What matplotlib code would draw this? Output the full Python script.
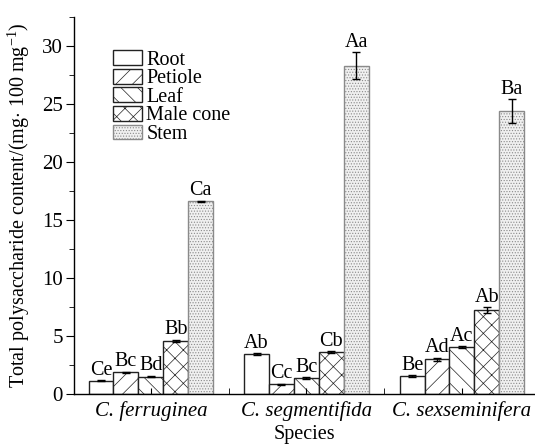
import matplotlib
matplotlib.use('Agg')
import matplotlib.pyplot as plt
import numpy as np
from matplotlib.ticker import MultipleLocator, FixedLocator

plt.rcParams['font.family'] = ['Liberation Serif', 'DejaVu Serif']
plt.rcParams['mathtext.fontset'] = 'custom'
plt.rcParams['mathtext.rm'] = 'Liberation Serif'
plt.rcParams['mathtext.it'] = 'Liberation Serif:italic'
plt.rcParams['hatch.linewidth'] = 0.5

species = ['C. ferruginea', 'C. segmentifida', 'C. sexseminifera']
organs = ['Root', 'Petiole', 'Leaf', 'Male cone', 'Stem']

# values per organ, one entry per species
root = [1.15, 3.42, 1.55]
petiole = [1.87, 0.84, 2.99]
leaf = [1.50, 1.35, 4.05]
male_cone = [4.57, 3.62, 7.24]
stem = [16.6, 28.3, 24.4]

root_err = [0.05, 0.08, 0.08]
petiole_err = [0.05, 0.05, 0.12]
leaf_err = [0.05, 0.08, 0.08]
male_cone_err = [0.08, 0.08, 0.25]
stem_err = [0.08, 1.15, 1.0]

root_lbl = ['Ce', 'Ab', 'Be']
petiole_lbl = ['Bc', 'Cc', 'Ad']
leaf_lbl = ['Bd', 'Bc', 'Ac']
male_cone_lbl = ['Bb', 'Cb', 'Ab']
stem_lbl = ['Ca', 'Aa', 'Ba']

values = [root, petiole, leaf, male_cone, stem]
errors = [root_err, petiole_err, leaf_err, male_cone_err, stem_err]
letters = [root_lbl, petiole_lbl, leaf_lbl, male_cone_lbl, stem_lbl]

hatches = ['', '//', '\\\\', 'xx', '......']
faces = ['white', 'white', 'white', 'white', '#f0f0f0']
edges = ['#222222', '#222222', '#222222', '#222222', '#8a8a8a']

fig = plt.figure(figsize=(5.35, 4.44), dpi=100)
ax = fig.add_axes([0.138, 0.1126, 0.862, 0.8491])

x = np.arange(len(species))
w = 0.16

for i, organ in enumerate(organs):
    pos = x + (i - 2) * w
    ax.bar(pos, values[i], w, facecolor=faces[i], edgecolor=edges[i],
           hatch=hatches[i], linewidth=1.0, label=organ)
    ax.errorbar(pos, values[i], yerr=errors[i], fmt='none',
                ecolor='black', elinewidth=1.0, capsize=3, capthick=1.0)
    for p, v, e, t in zip(pos, values[i], errors[i], letters[i]):
        ax.text(p, v + e + 0.05, t, ha='center', va='bottom', fontsize=14.5)

ax.set_xlim(-0.495, 2.47)
ax.set_ylim(0, 32.5)

ax.spines['top'].set_visible(False)
ax.spines['right'].set_visible(False)
ax.spines['left'].set_linewidth(1.0)
ax.spines['bottom'].set_linewidth(1.0)

ax.yaxis.set_major_locator(MultipleLocator(5))
ax.yaxis.set_minor_locator(MultipleLocator(2.5))
ax.tick_params(axis='y', which='major', direction='out', length=6, labelsize=15, pad=2)
ax.tick_params(axis='y', which='minor', direction='out', length=3.5)

ax.set_xticks(x)
ax.set_xticklabels(species, fontstyle='italic', fontsize=15)
ax.xaxis.set_minor_locator(FixedLocator([0.5, 1.5]))
ax.tick_params(axis='x', which='major', direction='in', length=4, pad=5)
ax.tick_params(axis='x', which='minor', direction='in', length=4)

ax.set_xlabel('Species', fontsize=14.5, labelpad=3)
ax.set_ylabel('Total polysaccharide content/(mg$\\cdot$ 100 mg$^{-1}$)',
              fontsize=14.5, labelpad=7)

ax.legend(loc='upper left', bbox_to_anchor=(0.085, 0.912), frameon=False,
          fontsize=14.5, handlelength=1.45, handleheight=0.75,
          labelspacing=-0.04, handletextpad=0.2, borderpad=0, borderaxespad=0)

fig.savefig('out.png', dpi=100)
